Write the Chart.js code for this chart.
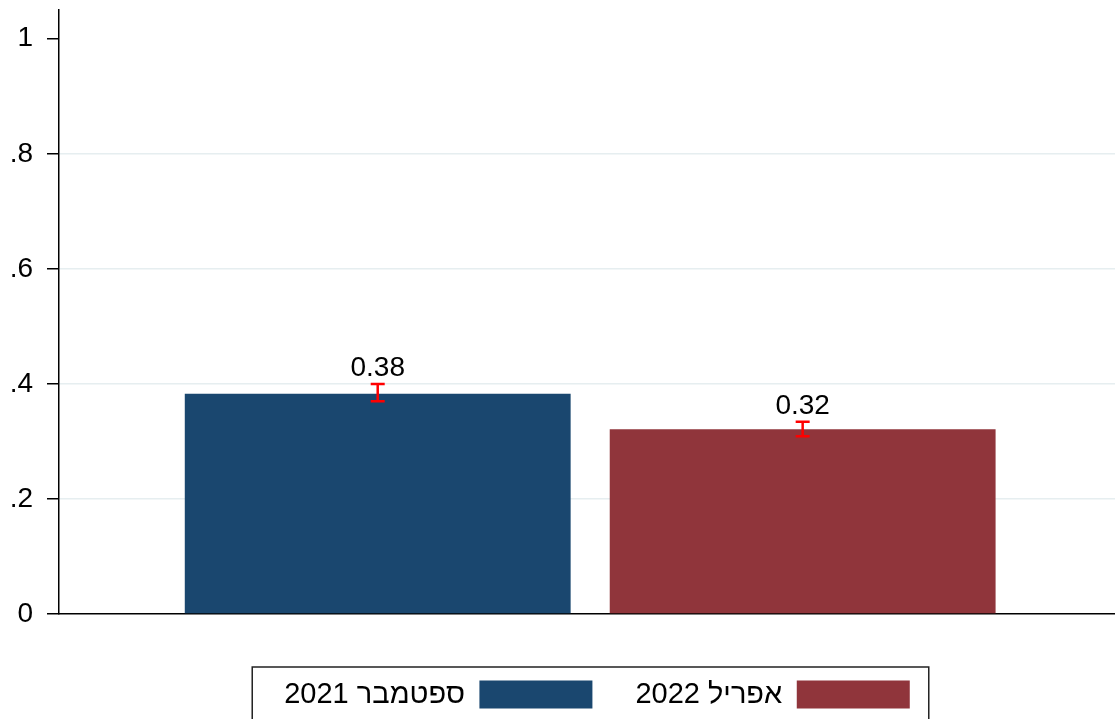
<!DOCTYPE html>
<html>
<head>
<meta charset="utf-8">
<script src="https://cdn.jsdelivr.net/npm/chart.js@4/dist/chart.umd.min.js"></script>
<style>
  html, body { margin: 0; padding: 0; background: #fff; }
  #wrap { width: 1115px; height: 719px; }
</style>
</head>
<body>
<div id="wrap"><canvas id="chart" width="1115" height="719"></canvas></div>
<script>
// data
const categories = ['ספטמבר 2021', 'אפריל 2022'];
const means = [0.383, 0.321];
const ciLow = [0.370, 0.309];
const ciHigh = [0.400, 0.334];
const valueLabels = ['0.38', '0.32'];
const yTicks = [0, 0.2, 0.4, 0.6, 0.8, 1];
const yTickLabels = ['0', '.2', '.4', '.6', '.8', '1'];
const colors = ['#1a476f', '#90353b'];

const FONT = '"Liberation Sans", Arial, sans-serif';

// error bars + value labels on top of bars
const errorBars = {
  id: 'errorBars',
  afterDatasetsDraw(chart) {
    const { ctx, scales: { x, y } } = chart;
    ctx.save();
    categories.forEach((c, i) => {
      const px = x.getPixelForValue(i + 1);
      const top = y.getPixelForValue(ciHigh[i]);
      const bot = y.getPixelForValue(ciLow[i]);
      ctx.strokeStyle = '#ff0000';
      ctx.lineWidth = 2.5;
      ctx.beginPath();
      ctx.moveTo(px, top); ctx.lineTo(px, bot);
      ctx.moveTo(px - 7, top); ctx.lineTo(px + 7, top);
      ctx.moveTo(px - 7, bot); ctx.lineTo(px + 7, bot);
      ctx.stroke();
      ctx.fillStyle = '#000';
      ctx.font = '28px ' + FONT;
      ctx.textAlign = 'center';
      ctx.textBaseline = 'alphabetic';
      ctx.fillText(valueLabels[i], px, top - 8);
    });
    ctx.restore();
  }
};

// frame around the legend, and nudge it to where the original sits
const legendFrame = {
  id: 'legendFrame',
  afterLayout(chart) {
    const lg = chart.legend;
    lg.left += 10;
    lg.right += 10;
  },
  afterDraw(chart) {
    const lg = chart.legend;
    if (!lg || !lg.legendHitBoxes.length) return;
    const boxes = lg.legendHitBoxes;
    const left = Math.min(...boxes.map(b => b.left)) - 32;
    const right = Math.max(...boxes.map(b => b.left + b.width)) + 19;
    const top = boxes[0].top - 13;
    const ctx = chart.ctx;
    ctx.save();
    ctx.strokeStyle = '#222';
    ctx.lineWidth = 1.5;
    ctx.strokeRect(left, top, right - left, 200);
    ctx.restore();
  }
};

new Chart(document.getElementById('chart'), {
  type: 'bar',
  data: {
    datasets: categories.map((c, i) => ({
      // RLE ... PDF so the Hebrew label reads right to left
      label: '\u202B' + c + '\u202C',
      data: [{ x: i + 1, y: means[i] }],
      backgroundColor: colors[i],
      borderWidth: 0,
      grouped: false,
      categoryPercentage: 1,
      barPercentage: 0.908
    }))
  },
  options: {
    responsive: false,
    animation: false,
    layout: { padding: { top: 10, right: 0, left: 0, bottom: 0 } },
    scales: {
      x: {
        type: 'linear',
        min: 0.25,
        max: 2.735,
        offset: false,
        afterBuildTicks(scale) { scale.ticks = categories.map((c, i) => ({ value: i + 1 })); },
        ticks: { display: false },
        grid: { display: false, drawTicks: false },
        border: { display: true, color: '#000', width: 1.5 },
        afterFit(scale) { scale.height = 23; }
      },
      y: {
        min: 0,
        max: 1.05,
        afterBuildTicks(scale) { scale.ticks = yTicks.map(v => ({ value: v })); },
        ticks: {
          color: '#000',
          padding: 14,
          font: { family: FONT, size: 28 },
          callback(value, index) { return yTickLabels[index]; }
        },
        grid: {
          color(ctx) {
            const v = ctx.tick && ctx.tick.value;
            return (v > 0 && v < 1) ? '#e6eef0' : 'rgba(0,0,0,0)';
          },
          lineWidth: 1.5,
          tickColor: '#000',
          tickLength: 12
        },
        border: { display: true, color: '#000', width: 1.5 },
        afterFit(scale) {
          scale.width = 59;
          scale.paddingTop = 0;
          scale.paddingBottom = 0;
        }
      }
    },
    plugins: {
      title: { display: false },
      tooltip: { enabled: false },
      legend: {
        display: true,
        position: 'bottom',
        fullSize: false,
        rtl: true,
        reverse: true,
        labels: {
          color: '#000',
          boxWidth: 113,
          boxHeight: 28,
          padding: 43,
          font: { family: FONT, size: 29 }
        }
      }
    }
  },
  plugins: [errorBars, legendFrame]
});
</script>
</body>
</html>
